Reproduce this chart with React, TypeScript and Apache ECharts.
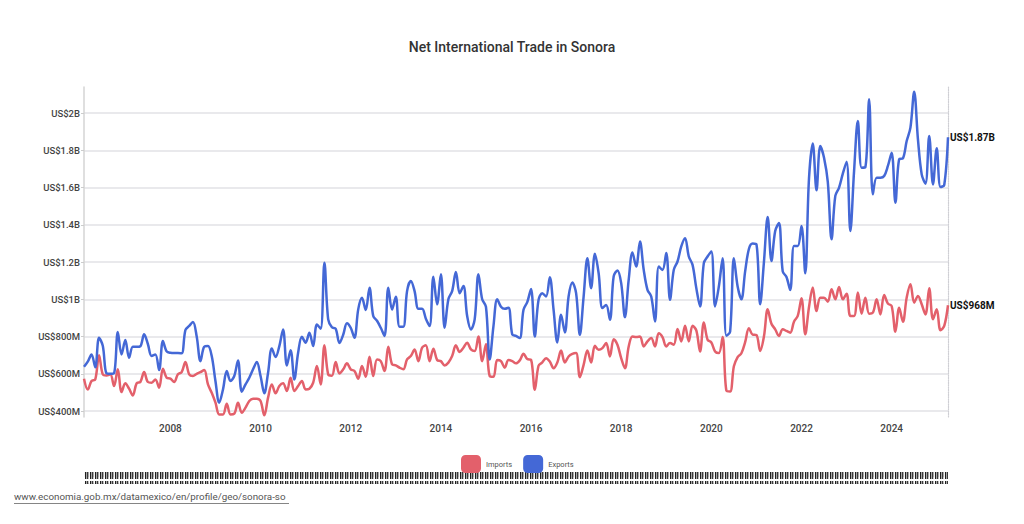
import React, { useEffect, useRef } from 'react';
import * as echarts from 'echarts';

// Monthly data, starting February 2006, values in millions of US$
const START_YEAR = 2006;
const START_MONTH = 2;

const exportsM = [
  638, 665, 704, 635, 794, 750, 602, 600, 603, 824,
  704, 781, 686, 745, 745, 748, 812, 760, 695, 704,
  620, 776, 720, 713, 712, 712, 710, 835, 857, 878,
  800, 668, 745, 749, 695, 560, 445, 516, 615, 561,
  588, 672, 504, 543, 579, 624, 663, 588, 495, 606,
  736, 690, 749, 838, 645, 727, 570, 713, 799, 767,
  820, 749, 865, 842, 1196, 892, 850, 842, 765, 810,
  872, 847, 794, 946, 1008, 942, 1062, 910, 885, 847,
  803, 1062, 945, 1014, 853, 853, 1044, 1098, 1044, 949,
  949, 896, 856, 1121, 973, 1134, 847, 1000, 1044, 1146,
  1032, 1071, 910, 838, 892, 1134, 1000, 960, 677, 856,
  1000, 960, 949, 955, 812, 803, 792, 944, 985, 1055,
  800, 997, 1033, 1015, 1119, 944, 768, 917, 822, 1015,
  1090, 1033, 809, 1015, 1221, 1060, 1244, 1140, 953, 970,
  890, 1123, 1155, 1087, 904, 1105, 1251, 1176, 1310, 1158,
  1051, 1015, 881, 1176, 1158, 1248, 997, 1158, 1203, 1284,
  1328, 1230, 1185, 1060, 962, 1194, 1230, 1257, 962, 1069,
  1221, 804, 827, 1221, 1069, 1000, 1150, 1270, 1299, 1295,
  973, 1200, 1442, 1206, 1367, 1410, 1150, 1120, 1050, 1286,
  1286, 1394, 1140, 1650, 1836, 1585, 1823, 1760, 1630, 1322,
  1555, 1600, 1675, 1739, 1367, 1690, 1957, 1707, 1710, 2074,
  1564, 1653, 1653, 1662, 1716, 1787, 1519, 1752, 1757, 1850,
  1922, 2115, 1859, 1671, 1621, 1877, 1617, 1811, 1603, 1614,
  1870,
];

const importsM = [
  574, 516, 561, 570, 699, 597, 591, 597, 534, 624,
  502, 549, 520, 484, 549, 556, 609, 556, 552, 570,
  525, 627, 579, 574, 556, 597, 609, 663, 597, 588,
  600, 609, 620, 543, 498, 445, 382, 382, 439, 382,
  386, 445, 391, 418, 454, 466, 466, 454, 377, 472,
  543, 495, 534, 549, 507, 579, 507, 534, 561, 516,
  520, 552, 642, 543, 753, 597, 590, 663, 602, 624,
  656, 624, 615, 574, 642, 584, 692, 588, 677, 668,
  615, 745, 651, 645, 633, 624, 677, 695, 731, 668,
  740, 753, 668, 735, 674, 668, 645, 660, 695, 753,
  717, 740, 767, 731, 722, 800, 668, 758, 588, 584,
  674, 668, 633, 674, 668, 656, 672, 707, 679, 675,
  514, 643, 661, 684, 666, 630, 661, 725, 661, 693,
  707, 711, 582, 648, 725, 661, 750, 729, 738, 765,
  693, 786, 756, 684, 630, 747, 800, 797, 800, 747,
  774, 792, 747, 818, 797, 747, 765, 756, 840, 774,
  858, 774, 858, 833, 720, 876, 783, 768, 720, 711,
  797, 510, 505, 640, 690, 710, 770, 845, 810, 808,
  723, 800, 946, 869, 839, 803, 839, 830, 821, 880,
  911, 1005, 812, 959, 1063, 937, 1009, 1009, 987, 1054,
  1000, 1066, 1000, 1030, 911, 911, 1036, 923, 1009, 923,
  928, 1000, 919, 1023, 977, 964, 826, 955, 880, 1009,
  1081, 982, 1018, 973, 919, 1059, 893, 946, 834, 857,
  968,
];

const seriesNames = ['Imports', 'Exports'];
const yTicks = [400, 600, 800, 1000, 1200, 1400, 1600, 1800, 2000];
const xTicks = [2008, 2010, 2012, 2014, 2016, 2018, 2020, 2022, 2024];
const titleText = 'Net International Trade in Sonora';
const sourceText = 'www.economia.gob.mx/datamexico/en/profile/geo/sonora-so';

const Y_MIN = 368;
const Y_MAX = 2140;

function fmtMoney(v: number): string {
  return v >= 1000 ? `US$${+(v / 1000).toFixed(2)}B` : `US$${Math.round(v)}M`;
}

function toPoints(arr: number[]): [number, number][] {
  return arr.map((v, i) => [START_YEAR + (START_MONTH - 1 + i) / 12, v]);
}

const X_MIN = START_YEAR + (START_MONTH - 1) / 12;
const X_MAX = START_YEAR + (START_MONTH - 1 + exportsM.length - 1) / 12;

const RED = '#e3606b';
const BLUE = '#4468d6';
const FONT = 'Roboto';

function makeStripePattern(): HTMLCanvasElement {
  const c = document.createElement('canvas');
  c.width = 5;
  c.height = 12;
  const ctx = c.getContext('2d')!;
  ctx.fillStyle = '#ffffff';
  ctx.fillRect(0, 0, 5, 12);
  ctx.fillStyle = '#1e1e1e';
  ctx.fillRect(0, 1, 1.4, 10);
  ctx.fillStyle = '#3a3a3a';
  ctx.fillRect(2, 1, 1.3, 10);
  ctx.fillStyle = '#9a9a9a';
  ctx.fillRect(3.3, 3, 0.8, 6);
  return c;
}

export default function App() {
  const ref = useRef<HTMLDivElement>(null);

  useEffect(() => {
    document.body.style.margin = '0';
    const chart = echarts.init(ref.current!, undefined, { renderer: 'svg' });
    const endLabel = () => ({
      show: true,
      formatter: (p: any) => fmtMoney(p.value[1]),
      color: '#111',
      fontFamily: FONT,
      fontSize: 10,
      fontWeight: 700,
      distance: 2,
    });
    chart.setOption({
      animation: false,
      backgroundColor: '#ffffff',
      title: {
        text: titleText,
        left: 'center',
        top: 35,
        textStyle: { fontFamily: FONT, fontSize: 14, fontWeight: 500, color: '#333' },
      },
      grid: { left: 84, right: 76, top: 87, bottom: 107 },
      legend: {
        data: seriesNames,
        left: 456,
        top: 450,
        icon: 'roundRect',
        itemWidth: 20,
        itemHeight: 18,
        itemGap: 11,
        textStyle: { fontFamily: FONT, fontSize: 7.5, color: '#555' },
      },
      xAxis: {
        type: 'value',
        min: X_MIN,
        max: X_MAX,
        axisLine: { show: false },
        axisTick: { show: false, customValues: xTicks },
        splitLine: { show: false },
        axisLabel: {
          customValues: xTicks,
          formatter: (v: number) => String(v),
          margin: 6,
          color: '#444',
          fontFamily: FONT,
          fontSize: 10,
          fontWeight: 500,
        },
      },
      yAxis: [
        {
          type: 'value',
          min: Y_MIN,
          max: Y_MAX,
          axisLine: { show: true, lineStyle: { color: '#d4d4d4', width: 1.5 } },
          axisTick: { show: true, length: 3, customValues: yTicks, lineStyle: { color: '#ccc' } },
          axisLabel: {
            customValues: yTicks,
            formatter: fmtMoney,
            margin: 4,
            color: '#444',
            fontFamily: FONT,
            fontSize: 9.5,
            fontWeight: 500,
          },
          splitLine: { show: true, lineStyle: { color: '#e2e2e6', width: 1.5 } },
        },
        {
          type: 'value',
          position: 'right',
          min: Y_MIN,
          max: Y_MAX,
          axisLine: { show: true, lineStyle: { color: '#cfcfd4', width: 1.2, type: 'dotted' } },
          axisTick: { show: false },
          axisLabel: { show: false },
          splitLine: { show: false },
        },
      ],
      series: [
        {
          name: seriesNames[0],
          type: 'line',
          data: toPoints(importsM),
          showSymbol: false,
          smooth: 0.35,
          color: RED,
          lineStyle: { width: 2.5, color: RED },
          endLabel: endLabel(),
          z: 2,
        },
        {
          name: seriesNames[1],
          type: 'line',
          data: toPoints(exportsM),
          showSymbol: false,
          smooth: 0.35,
          color: BLUE,
          lineStyle: { width: 2.5, color: BLUE },
          endLabel: endLabel(),
          z: 3,
        },
      ],
      graphic: [
        {
          type: 'rect',
          silent: true,
          shape: { x: 84, y: 472, width: 864, height: 12 },
          style: { fill: { image: makeStripePattern(), repeat: 'repeat' } as any },
        },
        {
          type: 'text',
          left: 14,
          top: 491,
          style: {
            text: sourceText,
            fontFamily: FONT,
            fontSize: 9.8,
            fill: '#555',
          },
        },
        {
          type: 'line',
          shape: { x1: 14, y1: 503.5, x2: 289, y2: 503.5 },
          style: { stroke: '#666', lineWidth: 0.8 },
        },
      ],
    });
    return () => chart.dispose();
  }, []);

  return <div ref={ref} style={{ width: 1024, height: 524 }} />;
}
